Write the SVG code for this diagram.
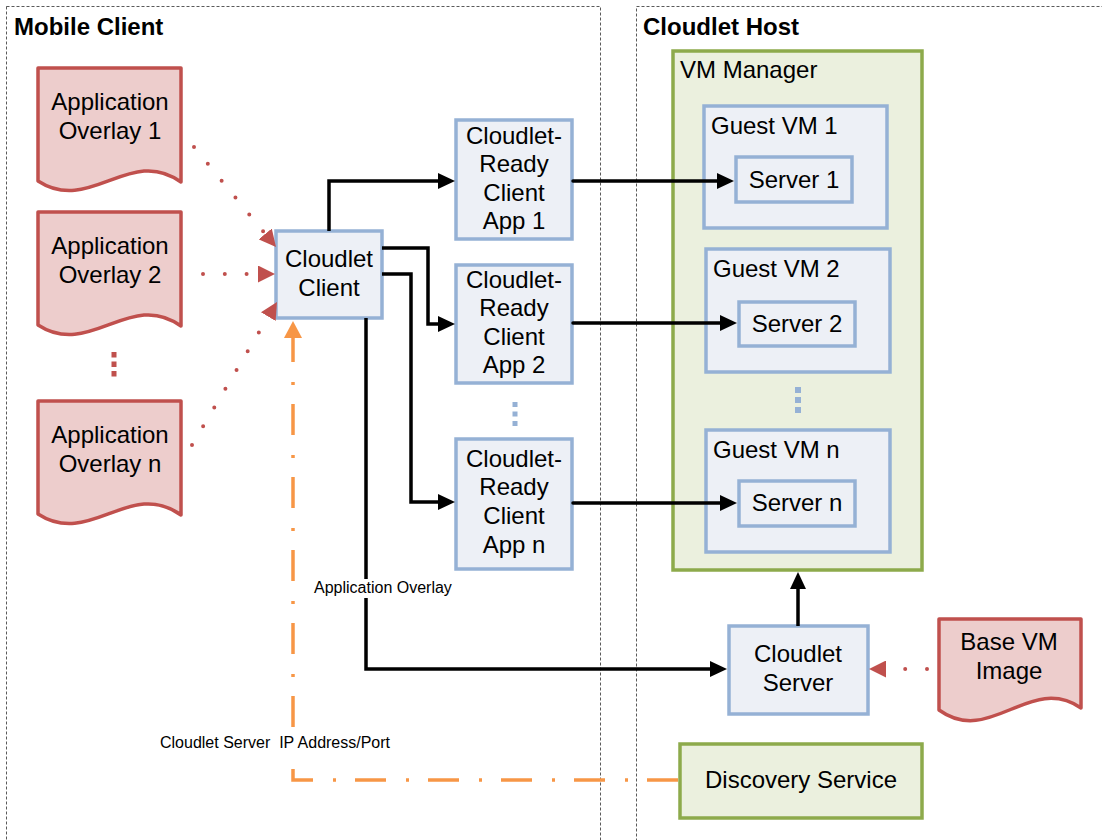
<svg xmlns="http://www.w3.org/2000/svg" xmlns:xlink="http://www.w3.org/1999/xlink" width="1102" height="840" viewBox="0 0 1102 840">
<style>
.t{font-family:"Liberation Sans",Arial,sans-serif;font-size:24px;fill:#000}
.c{text-anchor:middle}
.h{font-weight:bold}
.s{font-size:16px;white-space:pre}
.lbg{fill:#fff;stroke:none}
.zone{fill:none;stroke:#5a5a5a;stroke-width:1;stroke-dasharray:3 2}
.blue{fill:#EDF0F6;stroke:#95B1D5;stroke-width:3.5}
.green{fill:#EBF0DE;stroke:#8DAA4B;stroke-width:3.5}
.doc{fill:#EDCDCC;stroke:#C0504D;stroke-width:3.5;stroke-linejoin:round}
.blk{fill:none;stroke:#000;stroke-width:3.5;stroke-linejoin:miter}
.red{fill:none;stroke:#C0504D;stroke-width:4;stroke-linecap:round;stroke-dasharray:0 21.8}
.org{fill:none;stroke:#F79646;stroke-width:3.5;stroke-dasharray:31 19 3 20}
</style>
<defs>
<marker id="ab" markerUnits="userSpaceOnUse" markerWidth="17" markerHeight="16" viewBox="0 0 17 16" refX="0" refY="8" orient="auto"><path d="M0,0 L17,8 L0,16 Z" fill="#000"/></marker>
<marker id="ar" markerUnits="userSpaceOnUse" markerWidth="17" markerHeight="17" viewBox="0 0 17 17" refX="0" refY="8.5" orient="auto"><path d="M0,0 L17,8.5 L0,17 Z" fill="#C0504D"/></marker>
<marker id="ao" markerUnits="userSpaceOnUse" markerWidth="17" markerHeight="18" viewBox="0 0 17 18" refX="0" refY="9" orient="auto"><path d="M0,0 L17,9 L0,18 Z" fill="#F79646"/></marker>
<path id="docshape" d="M0,0 H143 V114 C92,77 52,147 0,113 Z"/>
</defs>

<g id="zones">
<rect class="zone" x="6.5" y="6.5" width="594" height="860"/>
<rect class="zone" x="636.5" y="6.5" width="520" height="860"/>
<text class="t h" x="14" y="35">Mobile Client</text>
<text class="t h" x="643" y="35">Cloudlet Host</text>
</g>

<g id="overlay1">
<use xlink:href="#docshape" class="doc" x="38" y="68"/>
<text class="t c" x="110" y="110">Application</text>
<text class="t c" x="110" y="139">Overlay 1</text>
</g>
<g id="overlay2">
<use xlink:href="#docshape" class="doc" x="38" y="212"/>
<text class="t c" x="110" y="254">Application</text>
<text class="t c" x="110" y="283">Overlay 2</text>
</g>
<g id="overlayDots" fill="#C0504D">
<rect x="111.5" y="352" width="5" height="5.5"/>
<rect x="111.5" y="361.5" width="5" height="5.5"/>
<rect x="111.5" y="371" width="5" height="5.5"/>
</g>
<g id="overlayN">
<use xlink:href="#docshape" class="doc" x="38" y="401"/>
<text class="t c" x="110" y="443">Application</text>
<text class="t c" x="110" y="472">Overlay n</text>
</g>

<g id="cloudletClient">
<rect class="blue" x="276" y="231" width="106" height="87"/>
<text class="t c" x="329" y="267">Cloudlet</text>
<text class="t c" x="329" y="296">Client</text>
</g>

<g id="app1">
<rect class="blue" x="456" y="120" width="116" height="119"/>
<text class="t c" x="514" y="144">Cloudlet-</text>
<text class="t c" x="514" y="172">Ready</text>
<text class="t c" x="514" y="201">Client</text>
<text class="t c" x="514" y="229">App 1</text>
</g>
<g id="app2">
<rect class="blue" x="456" y="265" width="116" height="118"/>
<text class="t c" x="514" y="288">Cloudlet-</text>
<text class="t c" x="514" y="316">Ready</text>
<text class="t c" x="514" y="345">Client</text>
<text class="t c" x="514" y="373">App 2</text>
</g>
<g id="appDots" fill="#95B1D5">
<rect x="512.5" y="402" width="5" height="5"/>
<rect x="512.5" y="411.5" width="5" height="5"/>
<rect x="512.5" y="421" width="5" height="5"/>
</g>
<g id="appN">
<rect class="blue" x="456" y="439" width="116" height="130"/>
<text class="t c" x="514" y="467">Cloudlet-</text>
<text class="t c" x="514" y="495">Ready</text>
<text class="t c" x="514" y="524">Client</text>
<text class="t c" x="514" y="553">App n</text>
</g>

<g id="vmManager">
<rect class="green" x="673" y="51" width="249" height="519"/>
<text class="t" x="680" y="78">VM Manager</text>
</g>
<g id="guestVM1">
<rect class="blue" x="704" y="106" width="183" height="122"/>
<text class="t" x="711" y="134">Guest VM 1</text>
</g>
<g id="server1">
<rect class="blue" x="736" y="157" width="116" height="45"/>
<text class="t c" x="794" y="188">Server 1</text>
</g>
<g id="guestVM2">
<rect class="blue" x="706" y="249" width="184" height="123"/>
<text class="t" x="713" y="277">Guest VM 2</text>
</g>
<g id="server2">
<rect class="blue" x="739" y="302" width="116" height="44"/>
<text class="t c" x="797" y="332">Server 2</text>
</g>
<g id="vmDots" fill="#95B1D5">
<rect x="795" y="387" width="6" height="6"/>
<rect x="795" y="397" width="6" height="6"/>
<rect x="795" y="407" width="6" height="6"/>
</g>
<g id="guestVMn">
<rect class="blue" x="706" y="430" width="184" height="122"/>
<text class="t" x="713" y="458">Guest VM n</text>
</g>
<g id="serverN">
<rect class="blue" x="739" y="481" width="116" height="45"/>
<text class="t c" x="797" y="511">Server n</text>
</g>

<g id="cloudletServer">
<rect class="blue" x="729" y="626" width="139" height="88"/>
<text class="t c" x="798" y="662">Cloudlet</text>
<text class="t c" x="798" y="691">Server</text>
</g>
<g id="baseVM">
<path class="doc" d="M939,619 H1081 V708 C1030,673 990,747 939,710 Z"/>
<text class="t c" x="1009" y="650">Base VM</text>
<text class="t c" x="1009" y="679">Image</text>
</g>
<g id="discovery">
<rect class="green" x="680" y="744" width="242" height="74"/>
<text class="t c" x="801" y="788">Discovery Service</text>
</g>

<g id="connectors">
<path class="blk" d="M329,231 V181 H438" marker-end="url(#ab)"/>
<path class="blk" d="M382,248 H428 V324 H438" marker-end="url(#ab)"/>
<path class="blk" d="M382,274 H411 V502 H438" marker-end="url(#ab)"/>
<path class="blk" d="M366,318 V669 H710" marker-end="url(#ab)"/>
<path class="blk" d="M573,181 H717" stroke-linecap="round" marker-end="url(#ab)"/>
<path class="blk" d="M573,323 H720" stroke-linecap="round" marker-end="url(#ab)"/>
<path class="blk" d="M573,503 H720" stroke-linecap="round" marker-end="url(#ab)"/>
<path class="blk" d="M798,626 V589" marker-end="url(#ab)"/>
<path class="red" d="M194,147 L265.2,233.9" marker-end="url(#ar)"/>
<path class="red" d="M203,274 H258" marker-end="url(#ar)"/>
<path class="red" d="M192,445 L268.3,316.6" marker-end="url(#ar)"/>
<path class="red" d="M927,669 H886" marker-end="url(#ar)"/>
<path class="org" d="M678,780 H293 V338" marker-end="url(#ao)"/>
<rect class="lbg" x="312" y="579" width="142" height="19"/>
<text class="t s" x="314" y="593">Application Overlay</text>
<rect class="lbg" x="158" y="734" width="235" height="19"/>
<text class="t s" x="160" y="748">Cloudlet Server  IP Address/Port</text>
</g>
</svg>
